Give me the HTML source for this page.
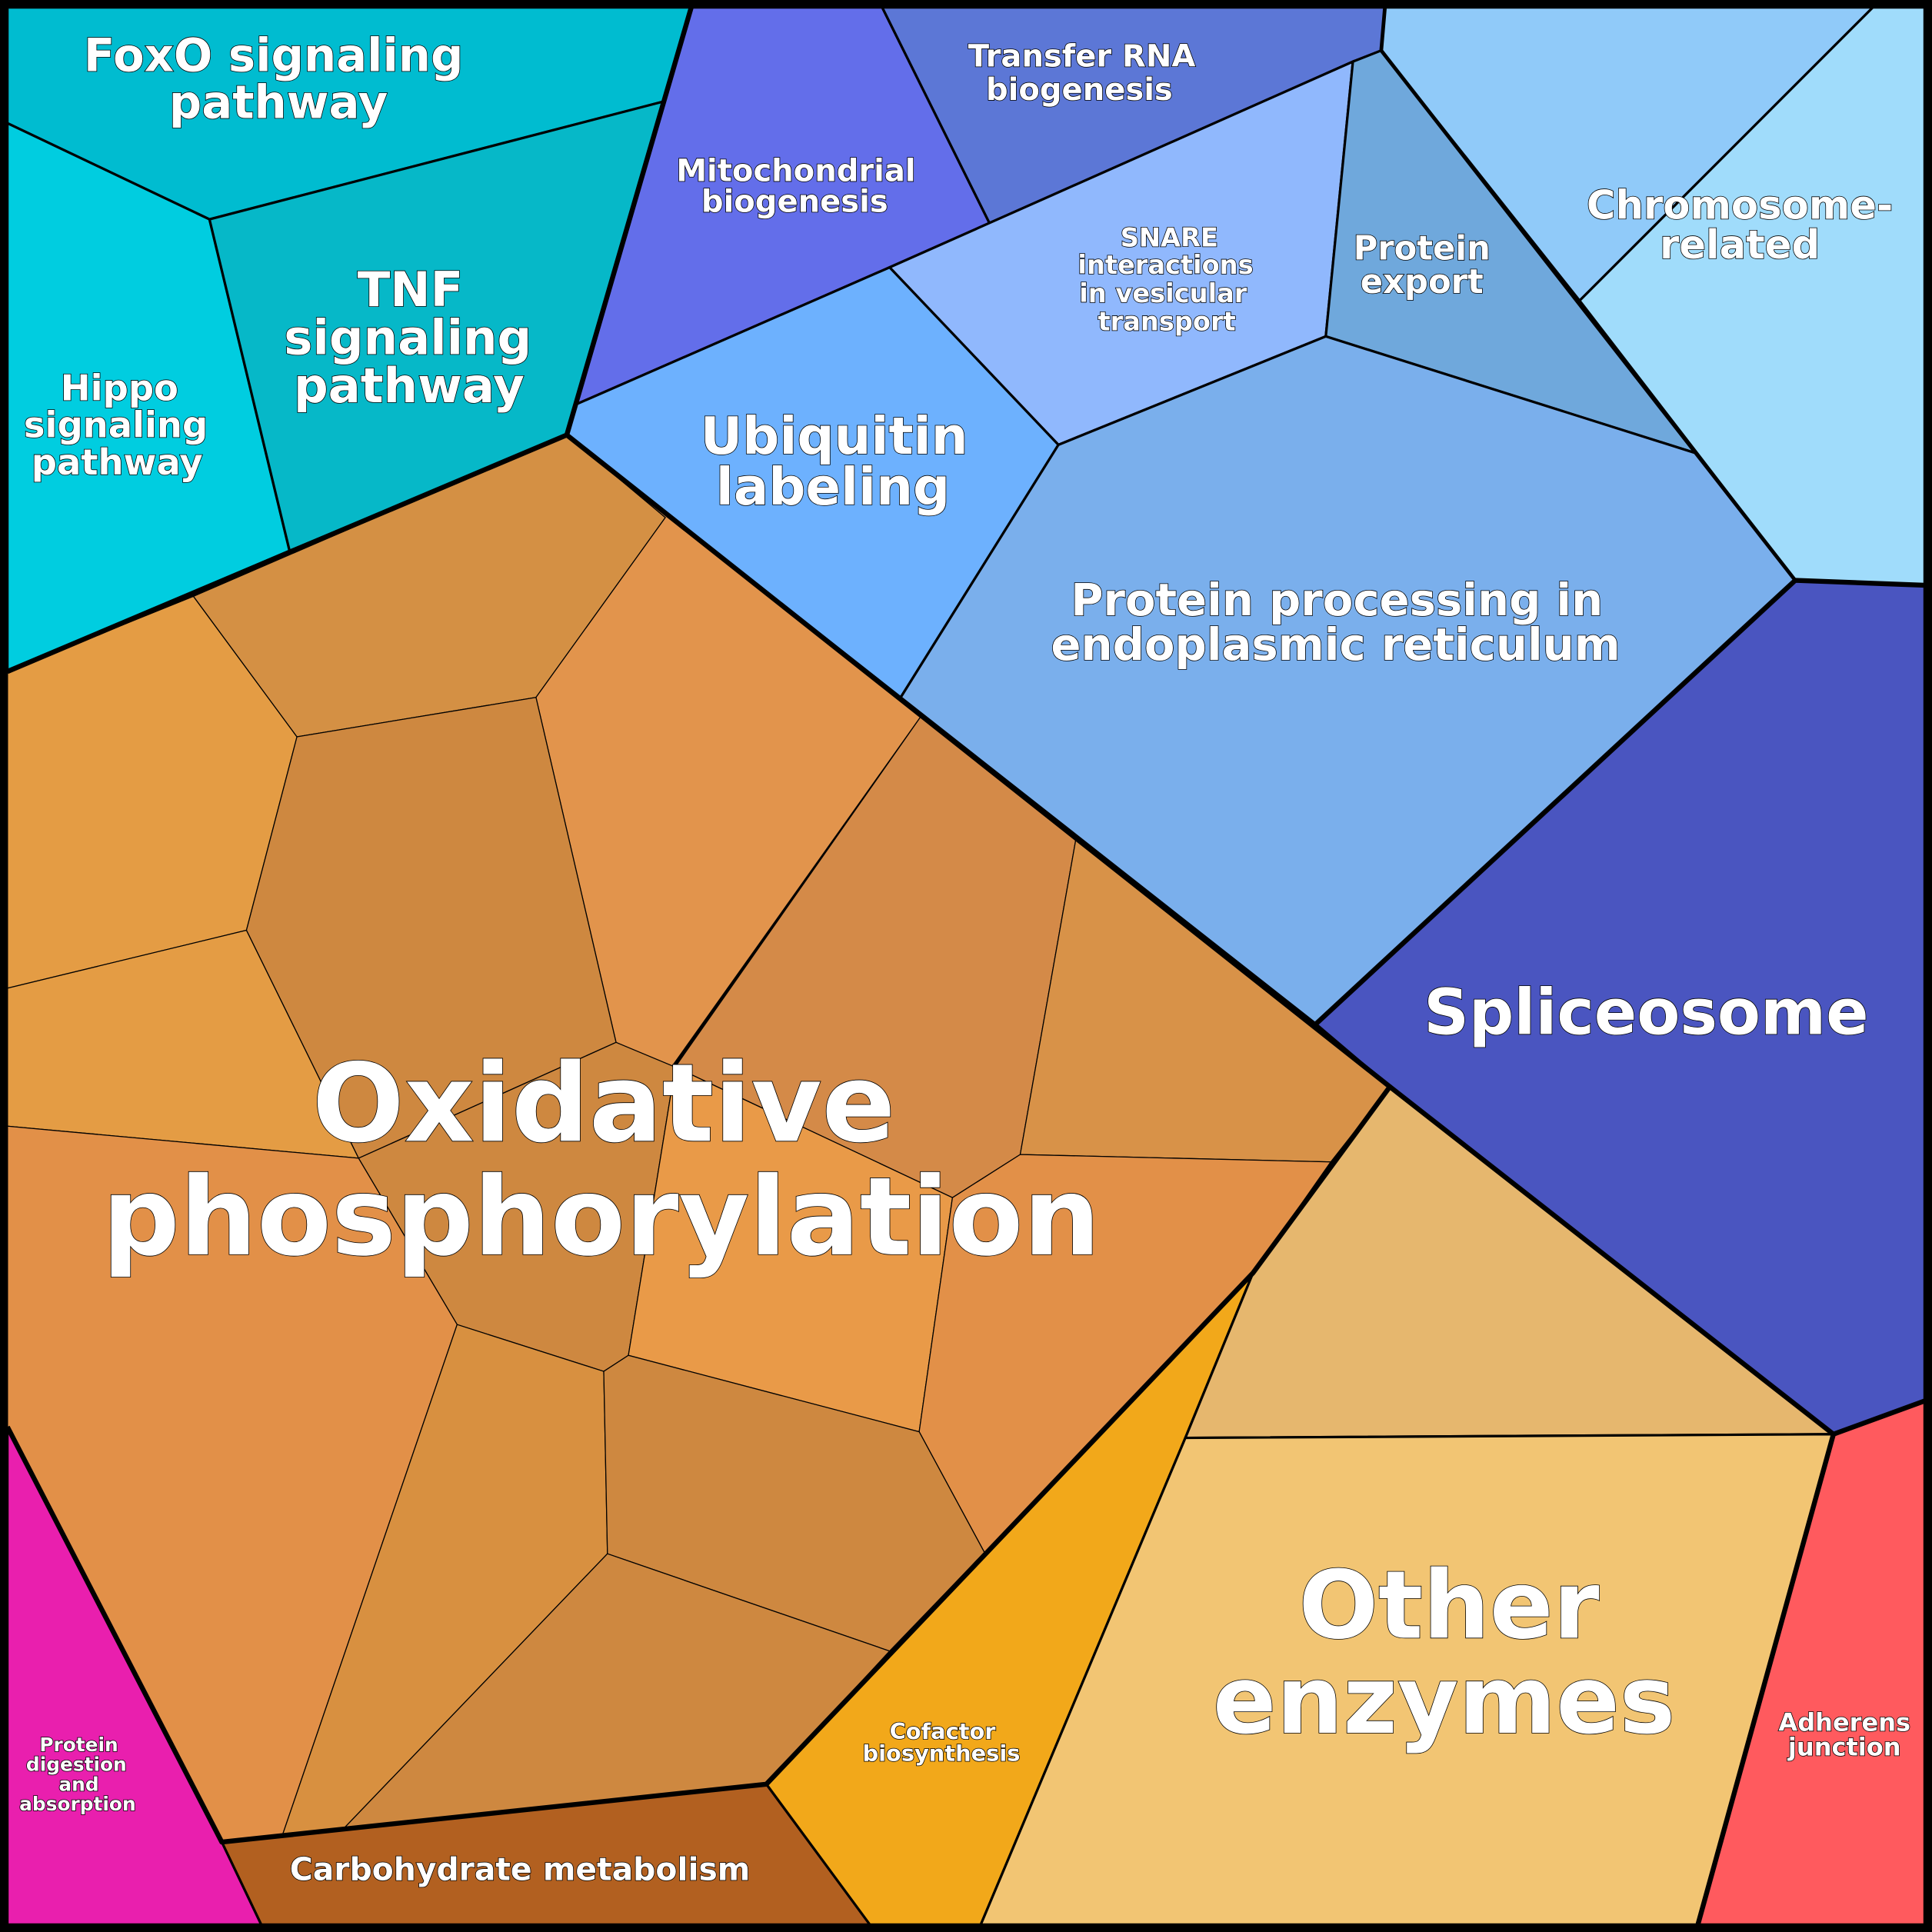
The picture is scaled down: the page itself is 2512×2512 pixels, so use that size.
<!DOCTYPE html>
<html><head><meta charset="utf-8"><style>
html,body{margin:0;padding:0;background:#fff}
svg{display:block}
text{font-family:"DejaVu Sans","Liberation Sans",sans-serif;font-weight:bold;fill:#fff;stroke:#000;stroke-width:1;paint-order:stroke;text-anchor:middle;dominant-baseline:central}
.c polygon{stroke:#000;stroke-width:2}
.o polygon{stroke:#000;stroke-width:0.8}
</style></head><body>
<svg width="2512" height="2512" viewBox="0 0 1568 1568" xmlns="http://www.w3.org/2000/svg">
<rect width="1568" height="1568" fill="#000"/>
<g class="c">
<polygon fill="#00bcd0" points="6,6 561,6 540,82 170,178 6,100"/>
<polygon fill="#00cde0" points="6,100 170,178 235,447 6,545"/>
<polygon fill="#06b8c8" points="170,178 540,82 460,353 235,447"/>
<polygon fill="#636eea" points="561,6 716,6 803,181 722,217 468,328"/>
<polygon fill="#5c77d6" points="716,6 1124,6 1121,41 1098,50 803,181"/>
<polygon fill="#90b8fd" points="722,217 803,181 1098,50 1076,273 859,361"/>
<polygon fill="#6fa8dc" points="1098,50 1121,41 1377,368 1076,273"/>
<polygon fill="#90caf9" points="1124,6 1520,6 1282,244 1121,41"/>
<polygon fill="#a0dcfb" points="1520,6 1562,6 1562,475 1457,471 1282,244"/>
<polygon fill="#6db1fe" points="468,328 722,217 859,361 731,566 460,353"/>
<polygon fill="#7aafec" points="859,361 1076,273 1377,368 1457,471 1068,831 731,566"/>
<polygon fill="#4a55c0" points="1457,471 1562,475 1562,1137 1488,1164 1128,882 1068,831"/>
<polygon fill="#b26020" points="180,1495 622,1448 706,1562 212,1562"/>
<polygon fill="#e91fae" points="6,1158 180,1495 212,1562 6,1562"/>
<polygon fill="#f2a81a" points="622,1448 1017,1033 962,1167 796,1562 706,1562"/>
<polygon fill="#e6b76e" points="1017,1033 1128,882 1488,1164 962,1167"/>
<polygon fill="#f2c573" points="962,1167 1488,1164 1378,1562 796,1562"/>
<polygon fill="#ff5a5e" points="1488,1164 1562,1137 1562,1562 1378,1562"/>
</g>
<g class="o">
<polygon fill="#e49c44" points="6,545 157,484 241,598 200,755 6,802"/>
<polygon fill="#d49044" points="157,484 460,353 540,420 435,566 241,598"/>
<polygon fill="#e2944c" points="540,420 460,353 747,582 545,866 500,846 435,566"/>
<polygon fill="#ce8840" points="241,598 435,566 500,846 291,940 200,755"/>
<polygon fill="#e49c44" points="6,802 200,755 291,940 6,914"/>
<polygon fill="#ce8840" points="291,940 500,846 548,866 510,1100 490,1113 371,1075"/>
<polygon fill="#d48a48" points="747,582 873,682 828,937 773,972 548,866"/>
<polygon fill="#d89248" points="873,682 1128,882 1080,943 828,937"/>
<polygon fill="#e99a48" points="548,866 773,972 746,1162 510,1100"/>
<polygon fill="#e29048" points="773,972 828,937 1080,943 1017,1033 799,1260 746,1162"/>
<polygon fill="#e29048" points="6,914 291,940 371,1075 229,1490 180,1495 6,1158"/>
<polygon fill="#d89040" points="371,1075 490,1113 493,1261 278,1485 229,1490"/>
<polygon fill="#ce8840" points="490,1113 510,1100 746,1162 799,1260 722,1340 493,1261"/>
<polygon fill="#ce8840" points="493,1261 722,1340 622,1448 278,1485"/>
</g>
<g fill="none" stroke="#000" stroke-width="4" stroke-linejoin="round">
<polyline points="6,545 460,353 561,6"/>
<polyline points="460,353 1128,882 1017,1033 622,1448 180,1495 6,1158"/>
<polyline points="1068,831 1457,471 1562,475"/>
<polyline points="1128,882 1488,1164 1562,1137"/>
<polyline points="1488,1164 1378,1562"/>
<polyline points="1124,6 1121,41 1457,471" stroke-width="3"/>
<rect x="3" y="3" width="1562" height="1562" stroke-width="7"/>
</g>
<text font-size="37" x="222" y="45">FoxO signaling</text>
<text font-size="37" x="226" y="83">pathway</text>
<text font-size="29" x="97" y="315">Hippo</text>
<text font-size="29" x="94" y="345">signaling</text>
<text font-size="29" x="95" y="375">pathway</text>
<text font-size="39" x="333" y="235">TNF</text>
<text font-size="39" x="331" y="274">signaling</text>
<text font-size="39" x="332" y="313">pathway</text>
<text font-size="25" x="646" y="139">Mitochondrial</text>
<text font-size="25" x="645" y="164">biogenesis</text>
<text font-size="25" x="878" y="46">Transfer RNA</text>
<text font-size="25" x="876" y="73">biogenesis</text>
<text font-size="21" x="949" y="193">SNARE</text>
<text font-size="21" x="946" y="215">interactions</text>
<text font-size="21" x="944" y="238">in vesicular</text>
<text font-size="21" x="947" y="261">transport</text>
<text font-size="27" x="1154" y="202">Protein</text>
<text font-size="27" x="1154" y="229">export</text>
<text font-size="32" x="1412" y="167">Chromosome-</text>
<text font-size="32" x="1412" y="199">related</text>
<text font-size="42" x="677" y="354">Ubiquitin</text>
<text font-size="42" x="676" y="395">labeling</text>
<text font-size="36" x="1085" y="487">Protein processing in</text>
<text font-size="36" x="1084" y="523">endoplasmic reticulum</text>
<text font-size="51" x="1336" y="822">Spliceosome</text>
<text font-size="88" x="490" y="896">Oxidative</text>
<text font-size="88" x="488" y="988">phosphorylation</text>
<text font-size="76" x="1176" y="1303">Other</text>
<text font-size="76" x="1172" y="1380">enzymes</text>
<text font-size="20" x="1497" y="1398">Adherens</text>
<text font-size="20" x="1497" y="1418">junction</text>
<text font-size="18" x="765" y="1405">Cofactor</text>
<text font-size="18" x="764" y="1423">biosynthesis</text>
<text font-size="15.5" x="64" y="1416">Protein</text>
<text font-size="15.5" x="62" y="1432">digestion</text>
<text font-size="15.5" x="64" y="1448">and</text>
<text font-size="15.5" x="63" y="1464">absorption</text>
<text font-size="25.5" x="422" y="1517">Carbohydrate metabolism</text>
</svg>
</body></html>
